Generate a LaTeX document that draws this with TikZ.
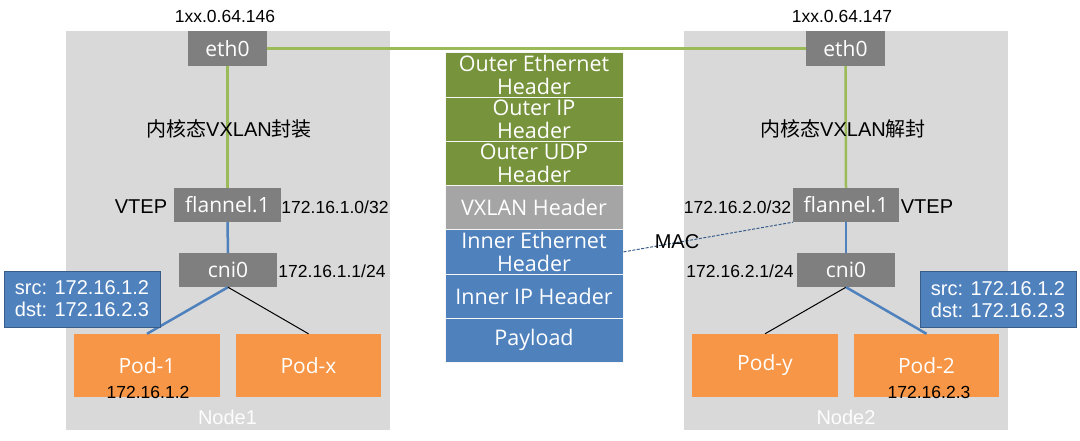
\documentclass[tikz,border=0pt]{standalone}
\usepackage{fontspec}
\setmainfont{Liberation Sans}
\newfontfamily\cjk{Noto Sans CJK SC}
\newfontfamily\boxfont{Open Sans}

\definecolor{ifgray}{HTML}{7F7F7F}
\definecolor{hostbg}{HTML}{D9D9D9}
\definecolor{wiregreen}{HTML}{9BBB59}
\definecolor{podorange}{HTML}{F79646}
\definecolor{pktblue}{HTML}{4F81BD}
\definecolor{pktborder}{HTML}{385D8A}
\definecolor{outergreen}{HTML}{77933C}
\definecolor{vxgray}{HTML}{A5A5A5}

\begin{document}
\begin{tikzpicture}[x=1pt,y=1pt,yscale=-1,xscale=1,
  host/.style={fill=hostbg, inner sep=0pt, minimum width=324pt, minimum height=399pt},
  iface/.style={fill=ifgray, text=white, inner sep=0pt, minimum height=35pt, font=\boxfont\fontsize{21}{24}\selectfont},
  pod/.style={fill=podorange, text=white, inner sep=0pt, minimum width=146pt, minimum height=63pt, font=\boxfont\fontsize{21}{24}\selectfont},
  hdr/.style={draw=white!80!hostbg, line width=1pt, text=white, inner sep=0pt, align=center, minimum width=178pt, minimum height=44.2pt, font=\boxfont\fontsize{21.5}{22.5}\selectfont},
  pkt/.style={fill=pktblue, draw=pktborder, line width=1pt, text=white, align=left, minimum width=156pt, minimum height=56pt, font=\fontsize{20}{22}\selectfont},
  addr/.style={font=\fontsize{17.5}{20}\selectfont},
  lbl/.style={font=\fontsize{20}{22}\selectfont},
  greenwire/.style={draw=wiregreen, line width=2.5pt},
  bluewire/.style={draw=pktblue, line width=2.5pt}]
\path[use as bounding box] (0,0) rectangle (1080,441);

%Shape: Rectangle (hosts)
\node[host] (host1) at (228,230.5) {};
\node[host] (host2) at (845.5,230.5) {};

% Node1 interfaces
\node[iface, minimum width=79pt] (eth1) at (227.5,48.5) {eth0};
\node[iface, minimum width=107pt, minimum height=34pt] (fl1) at (227.5,205) {flannel.1};
\node[iface, minimum width=98pt, minimum height=34pt] (cni1) at (228,270) {cni0};
\node[pod] (pod1) at (147,365.5) {Pod-1};
\node[pod, minimum width=145pt] (podx) at (308.5,365.5) {Pod-x};

% Node2 interfaces
\node[iface, minimum width=79pt] (eth2) at (845.5,48.5) {eth0};
\node[iface, minimum width=106pt, minimum height=34pt] (fl2) at (846,205) {flannel.1};
\node[iface, minimum width=98pt, minimum height=34pt] (cni2) at (846,270) {cni0};
\node[pod] (pody) at (765,365.5) {Pod-y};
\node[pod, minimum width=145pt] (pod2) at (926.5,365.5) {Pod-2};

%Straight Lines
\draw[greenwire] (eth1.east) -- (eth2.west);
\draw[greenwire] (eth1.south) -- (fl1.north);
\draw[greenwire] (eth2.south) -- (fl2.north);
\draw[bluewire] (fl1.south) -- (cni1.north);
\draw[bluewire] (fl2.south) -- (cni2.north);
\draw[bluewire] (cni1.south) -- (pod1.north);
\draw[line width=1pt] (cni1.south) -- (podx.north);
\draw[line width=1pt] (cni2.south) -- (pody.north);
\draw[bluewire] (cni2.south) -- (pod2.north);

% Packet stack
\node[hdr, fill=outergreen] (oeth) at (534,75.1) {Outer Ethernet\\Header};
\node[hdr, fill=outergreen] (oip) at (534,119.3) {Outer IP\\Header};
\node[hdr, fill=outergreen] (oudp) at (534,163.5) {Outer UDP\\Header};
\node[hdr, fill=vxgray] (vxh) at (534,207.7) {VXLAN Header};
\node[hdr, fill=pktblue] (ieth) at (534,251.9) {Inner Ethernet\\Header};
\node[hdr, fill=pktblue] (iip) at (534,296.1) {Inner IP Header};
\node[hdr, fill=pktblue] (pay) at (534,340.3) {Payload};

%Dashed MAC line
\draw[draw=pktborder, line width=1pt, dash pattern=on 3pt off 1.5pt] (ieth.east) -- (fl2.south west);

% Packet boxes
\node[pkt] (pkt1) at (82,299) {src: 172.16.1.2\\dst: 172.16.2.3};
\node[pkt] (pkt2) at (998,299.5) {src: 172.16.1.2\\dst: 172.16.2.3};

% Text Node
\node[addr] (ip1) at (225,16) {1xx.0.64.146};
\node[addr] (ip2) at (842,16) {1xx.0.64.147};
\node[lbl] (enc) at (229,129) {{\cjk 内核态}VXLAN{\cjk 封装}};
\node[lbl] (dec) at (843,129) {{\cjk 内核态}VXLAN{\cjk 解封}};
\node[lbl] (vtep1) at (141,207) {VTEP};
\node[lbl] (vtep2) at (927,207) {VTEP};
\node[addr] (fl1ip) at (335,207) {172.16.1.0/32};
\node[addr] (fl2ip) at (737.5,207) {172.16.2.0/32};
\node[addr] (cni1ip) at (332,271) {172.16.1.1/24};
\node[addr] (cni2ip) at (740,271) {172.16.2.1/24};
\node[addr] (pod1ip) at (148,392) {172.16.1.2};
\node[addr] (pod2ip) at (929,392) {172.16.2.3};
\node[lbl] (mac) at (677,242) {MAC};
\node[lbl, text=white!95!hostbg] (name1) at (227.5,417) {Node1};
\node[lbl, text=white!95!hostbg] (name2) at (846,417) {Node2};

\end{tikzpicture}
\end{document}
